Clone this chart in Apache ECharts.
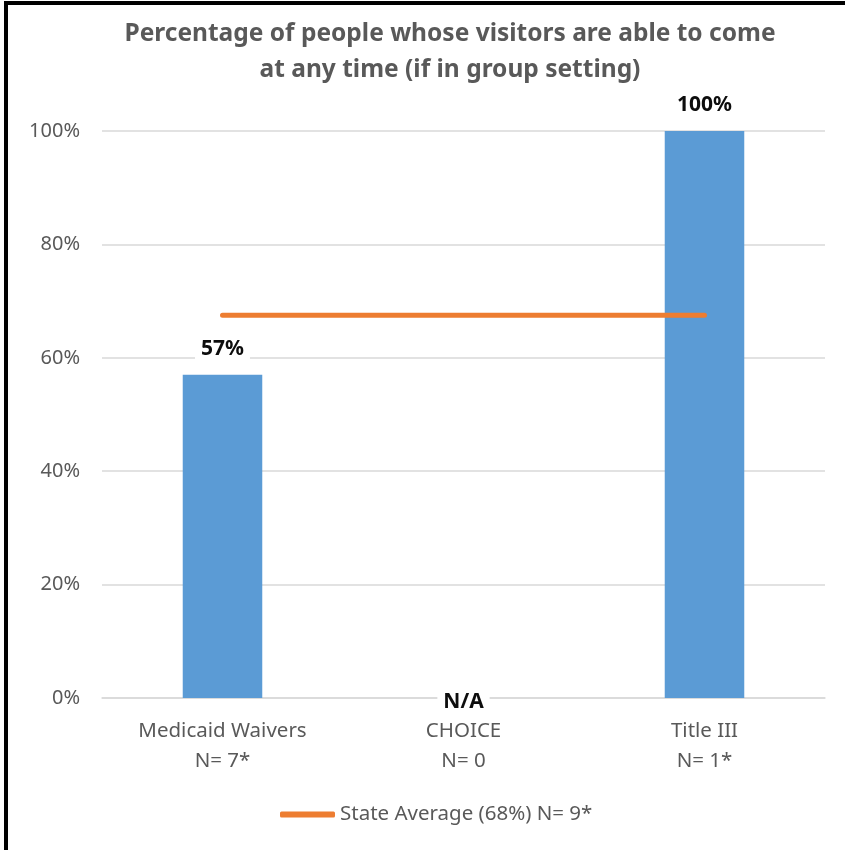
<!DOCTYPE html>
<html>
<head>
<meta charset="utf-8">
<script src="https://cdn.jsdelivr.net/npm/echarts@6/dist/echarts.min.js"></script>
<style>
  html, body { margin: 0; padding: 0; background: #fff; }
  #frame {
    position: absolute; left: 4px; top: 1px;
    width: 860px; height: 870px;
    border-top: 4px solid #000; border-left: 4px solid #000;
  }
  #main { position: absolute; left: -8px; top: -5px; width: 845px; height: 850px; }
</style>
</head>
<body>
<div id="frame"><div id="main"></div></div>
<script>
// 数据
const categories = ['Medicaid Waivers\nN= 7*', 'CHOICE\nN= 0', 'Title III\nN= 1*']
const programValues = [57, null, 100] // null = N/A
const stateAverage = [67.5, 67.5, 67.5]
const yTicks = [0, 20, 40, 60, 80, 100]

const FONT = '"Noto Sans", sans-serif'

let myChart = echarts.init(document.getElementById('main'))
let option = {
  textStyle: { fontFamily: FONT },
  title: {
    text: 'Percentage of people whose visitors are able to come\nat any time (if in group setting)',
    left: 445,
    top: 11,
    textAlign: 'center',
    textStyle: { fontSize: 24.5, fontWeight: 'bold', color: '#595959', lineHeight: 36, fontFamily: FONT },
  },
  grid: { left: 102, right: 20, top: 131, bottom: 152 },
  legend: {
    bottom: 20,
    left: 275,
    itemWidth: 55,
    itemHeight: 6,
    itemGap: 3,
    textStyle: { fontSize: 20.5, color: '#595959', fontFamily: FONT },
    data: [{ name: 'State Average (68%) N= 9*', icon: 'roundRect' }],
  },
  xAxis: {
    type: 'category',
    data: categories,
    axisTick: { show: false },
    axisLine: { lineStyle: { color: '#D9D9D9', width: 1.5 } },
    axisLabel: { color: '#595959', fontSize: 20.5, lineHeight: 30, margin: 18, fontFamily: FONT },
  },
  yAxis: {
    type: 'value',
    min: yTicks[0],
    max: yTicks[yTicks.length - 1],
    interval: 20,
    axisLabel: { formatter: '{value}%', color: '#595959', fontSize: 20, margin: 22, fontFamily: FONT },
    splitLine: { lineStyle: { color: '#D9D9D9', width: 1.5 } },
  },
  series: [
    {
      name: 'Programs',
      type: 'bar',
      barWidth: '33%',
      itemStyle: { color: '#5B9BD5' },
      label: {
        show: true,
        position: 'top',
        distance: 15,
        formatter: '{c}%',
        fontSize: 21,
        fontWeight: 'bold',
        color: '#0D0D0D',
        backgroundColor: '#fff',
        padding: [0, 6],
        fontFamily: FONT,
      },
      data: programValues.map((v) =>
        v === null
          ? { value: 0, label: { formatter: 'N/A', position: 'inside', offset: [0, 4] } }
          : v
      ),
    },
    {
      name: 'State Average (68%) N= 9*',
      type: 'line',
      data: stateAverage,
      showSymbol: false,
      symbol: 'none',
      itemStyle: { color: '#ED7D31' },
      lineStyle: { color: '#ED7D31', width: 5, cap: 'round' },
      z: 5,
    },
  ],
}
myChart.setOption(option)
</script>
</body>
</html>
